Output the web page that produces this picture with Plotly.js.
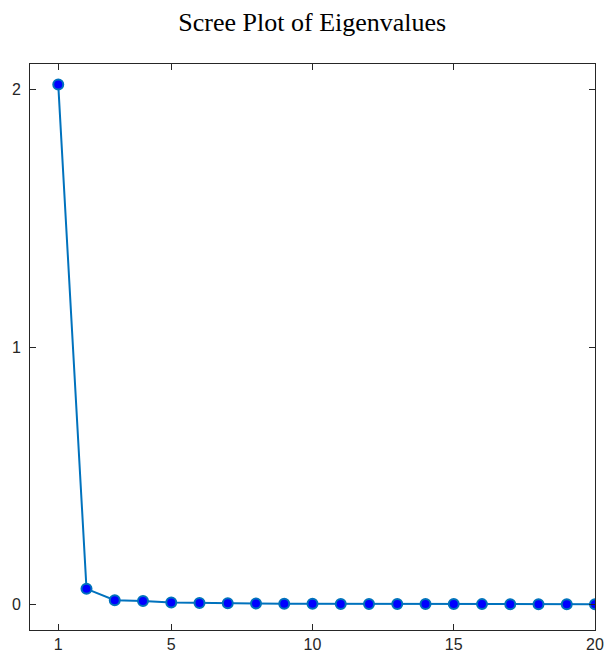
<!DOCTYPE html>
<html>
<head>
<meta charset="utf-8">
<script src="https://cdn.plot.ly/plotly-3.0.1.min.js"></script>
<style>html,body{margin:0;padding:0;background:#fff;}#chart{width:604px;height:655px;}</style>
</head>
<body>
<div id="chart"></div>
<script>
const componentIndex = [1,2,3,4,5,6,7,8,9,10,11,12,13,14,15,16,17,18,19,20];
const eigenvalues = [2.02,0.06,0.016,0.013,0.007,0.005,0.004,0.003,0.002,0.002,0.0015,0.0012,0.001,0.001,0.0008,0.0006,0.0005,0.0004,0.0003,0.0002];
const xTickVals = [1,5,10,15,20];
const yTickVals = [0,1,2];

const trace = {
  x: componentIndex,
  y: eigenvalues,
  type: 'scatter',
  mode: 'lines+markers',
  line: {color: '#0072BD', width: 2},
  marker: {color: '#0000FF', size: 10, line: {color: '#0072BD', width: 2}},
  hoverinfo: 'x+y'
};

const axisCommon = {
  showline: true, mirror: 'ticks', linecolor: '#262626', linewidth: 1,
  ticks: 'inside', ticklen: 6, tickwidth: 1, tickcolor: '#262626',
  showgrid: false, zeroline: false, ticklabeloverflow: 'allow',
  tickfont: {family: 'Liberation Sans, Arial, sans-serif', size: 16, color: '#262626'}
};

const layout = {
  width: 604, height: 655,
  margin: {l: 30, r: 9, t: 64, b: 25},
  paper_bgcolor: '#ffffff', plot_bgcolor: '#ffffff',
  showlegend: false,
  title: {text: 'Scree Plot of Eigenvalues', x: 0.517, xanchor: 'center', y: 0.966, yanchor: 'middle',
          font: {family: 'Liberation Serif, Times New Roman, serif', size: 26, color: '#000000'}},
  xaxis: Object.assign({}, axisCommon, {range: [0, 20], tickvals: xTickVals, ticktext: xTickVals.map(String), ticklabelstandoff: 0}),
  yaxis: Object.assign({}, axisCommon, {range: [-0.1, 2.1], tickvals: yTickVals, ticktext: yTickVals.map(String), ticklabelstandoff: 5})
};

Plotly.newPlot('chart', [trace], layout, {displayModeBar: false, staticPlot: true});
</script>
</body>
</html>
